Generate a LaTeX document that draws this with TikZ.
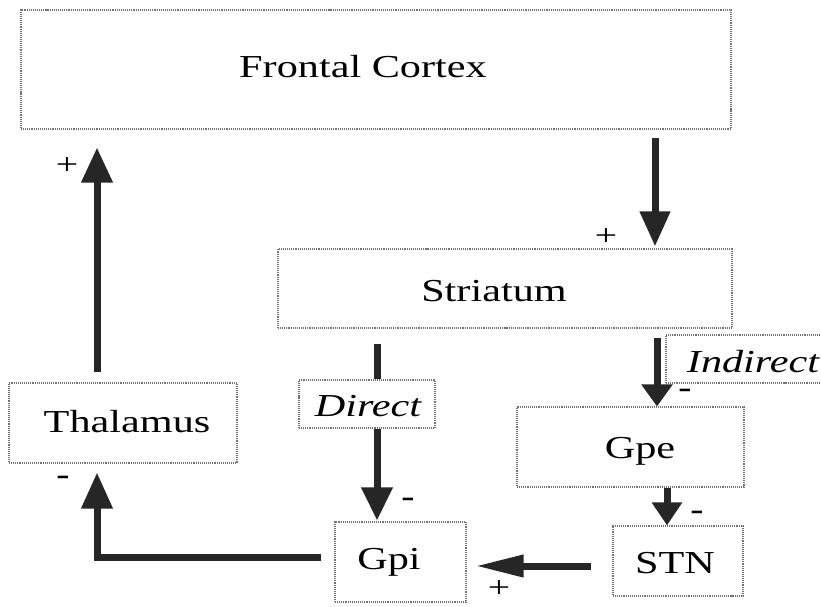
\documentclass[tikz,border=0pt]{standalone}
\usepackage{fontspec}
\setmainfont{Liberation Serif}[FakeStretch=1.32]
\usetikzlibrary{arrows.meta}
\begin{document}
\begin{tikzpicture}[x=1bp,y=-1bp,
  box/.style={draw=black!55, densely dotted, line width=1.1bp, fill=white, inner sep=0pt, rectangle},
  lbl/.style={anchor=base, inner sep=0pt, font=\fontsize{32bp}{38bp}\selectfont},
  arr/.style={line width=7bp, draw=black!85},
  sign/.style={inner sep=0pt, font=\fontsize{30bp}{34bp}\selectfont},
  msign/.style={inner sep=0pt, font=\fontsize{30bp}{34bp}\selectfont\bfseries}]
\useasboundingbox (0,0) rectangle (821,607);
% boxes
\node[box, minimum width=710bp, minimum height=119bp] (fc)  at (376,69.5) {};
\node[box, minimum width=454bp, minimum height=79bp]  (st)  at (505,288.5) {};
\node[box, minimum width=228bp, minimum height=80bp]  (th)  at (123,423) {};
\node[box, minimum width=227bp, minimum height=80bp]  (gpe) at (630.5,447) {};
\node[box, minimum width=131bp, minimum height=80bp]  (gpi) at (400.5,562) {};
\node[box, minimum width=130bp, minimum height=70bp]  (stn) at (678,561) {};
\node[box, minimum width=136bp, minimum height=48bp]  (dir) at (367,404) {};
\node[box, minimum width=160bp, minimum height=48bp]  (ind) at (746,359) {};
% texts
\node[lbl] (fct)  at (363,78)  {Frontal Cortex};
\node[lbl] (stt)  at (494,301) {Striatum};
\node[lbl] (tht)  at (127,432) {Thalamus};
\node[lbl] (gpet) at (640,458) {Gpe};
\node[lbl] (gpit) at (389,569) {Gpi};
\node[lbl] (stnt) at (675,573) {STN};
\node[lbl] (dirt) at (368,416) {\itshape Direct};
\node[lbl] (indt) at (753,372) {\itshape Indirect};
% helper coordinates
\coordinate (x1) at (655,0);
\coordinate (x2) at (97,0);
\coordinate (y3) at (0,557);
\coordinate (x4) at (377,0);
\coordinate (x5) at (657,0);
\coordinate (x6) at (667,0);
\coordinate (y7) at (0,566);
% arrows
\draw[arr, -{Triangle[length=35bp,width=29bp]}, shorten <=8bp, shorten >=2bp]
  (fc.south -| x1) -- (st.north -| x1);
\draw[arr, -{Triangle[length=35bp,width=30bp]}, shorten <=10bp, shorten >=18bp]
  (th.north -| x2) -- (fc.south -| x2);
\draw[arr, -{Triangle[length=36bp,width=30bp]}, shorten <=13bp, shorten >=9bp]
  (gpi.west |- y3) -- (x2 |- y3) -- (th.south -| x2);
\draw[arr, shorten <=15bp] (st.south -| x4) -- (dir.north -| x4);
\draw[arr, -{Triangle[length=33bp,width=30bp]}, shorten >=1bp]
  (dir.south -| x4) -- (gpi.north -| x4);
\draw[arr, -{Triangle[length=22bp,width=30bp]}, shorten <=9bp]
  (st.south -| x5) -- (gpe.north -| x5);
\draw[arr, -{Triangle[length=23bp,width=29bp]}]
  (gpe.south -| x6) -- (stn.north -| x6);
\draw[arr, -{Triangle[length=48bp,width=21bp]}, shorten <=21bp, shorten >=9bp]
  (stn.west |- y7) -- (gpi.east |- y7);
% signs
\node[sign] (p1) at (67,166)  {+};
\node[sign] (p2) at (606,237) {+};
\node[sign] (p3) at (499,589) {+};
\node[msign] (m1) at (63,480)  {-};
\node[msign] (m2) at (408,502) {-};
\node[msign] (m3) at (685,393) {-};
\node[msign] (m4) at (697,515) {-};
\end{tikzpicture}
\end{document}
